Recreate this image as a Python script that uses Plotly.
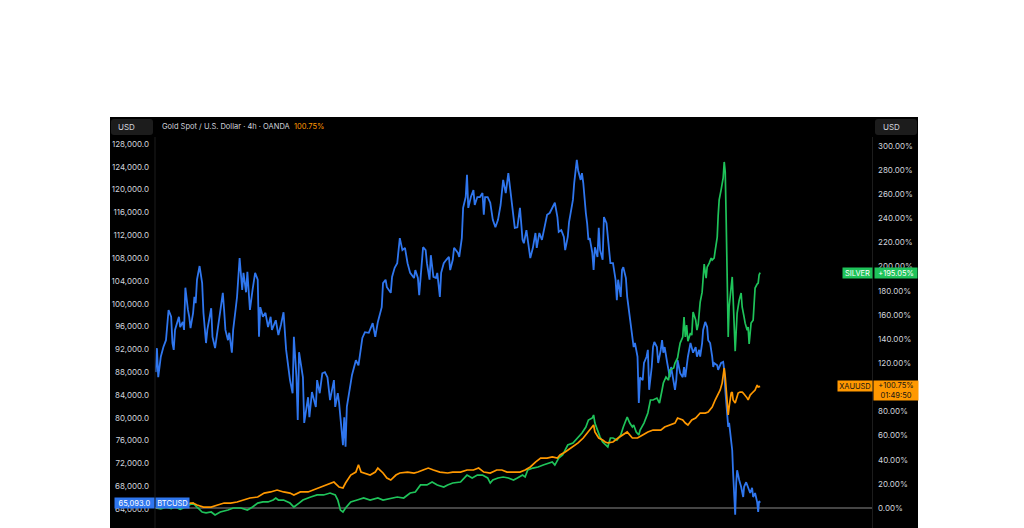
import plotly.graph_objects as go
import pandas as pd

# The page body adds an 8px margin, so the figure is 8px smaller and all
# reference pixel positions are shifted by OFF.
OFF = 8
W, H = 1024 - OFF, 528 - OFF
START = pd.Timestamp("2024-11-11")

# ---------------- data (days since START, values) ----------------
btc_days = [0, 1, 2, 4, 6, 8, 10, 12, 13, 14, 15, 18, 19, 21, 22, 23, 25, 26, 27, 29, 30, 31, 32, 34, 36, 37, 39, 40, 43, 44,
            46, 48, 49, 52, 53, 54, 56, 57, 59, 60, 62, 63, 65, 67, 68, 70, 71, 73, 75, 77, 79, 80, 81, 83, 85, 87, 89, 90, 93, 95,
            97, 99, 101, 103, 104, 106, 107, 109, 110, 111, 114, 115, 118, 119, 121, 124, 125, 127, 129, 131, 133, 135, 138, 139, 141, 142, 144, 145, 146, 147,
            148, 150, 152, 155, 157, 159, 160, 162, 165, 168, 170, 172, 175, 176, 178, 179, 182, 183, 185, 187, 189, 191, 193, 195, 197, 200, 201, 203, 204, 206,
            207, 209, 210, 212, 213, 215, 217, 218, 220, 221, 223, 225, 227, 228, 230, 231, 234, 235, 237, 238, 240, 241, 242, 244, 246, 247, 249, 251, 253, 254,
            255, 257, 259, 261, 263, 265, 267, 269, 271, 273, 275, 277, 278, 280, 282, 284, 285, 287, 288, 290, 292, 294, 295, 297, 299, 301, 303, 305, 307, 309,
            311, 312, 314, 316, 317, 319, 320, 323, 324, 326, 327, 329, 330, 331, 333, 334, 335, 336, 338, 339, 340, 342, 343, 344, 346, 347, 349, 350, 352, 354,
            356, 357, 358, 360, 361, 362, 364, 365, 367, 369, 370, 371, 373, 374, 375, 377, 378, 380, 381, 382, 384, 385, 386, 388, 389, 391, 392, 393, 394, 396,
            398, 399, 401, 402, 403, 404, 406, 408, 409, 410, 411, 412, 414, 416, 418, 419, 420.7, 421.5, 423.0, 423.8, 425.4, 426.9, 427.7, 429.2, 430.8, 431.6,
            432.3, 434.7, 435.4, 437.7, 439.3, 440.1, 440.9, 442.4, 443.2, 443.9, 445.5, 446.3, 447.0, 448.6, 449.4, 450.1, 451.7, 453.2, 454.8, 455.5,
            457.1, 458.6, 460.2, 461.7, 462.5, 464.0, 465.6, 466.4, 467.1, 467.9]
btc_price_k = [88.0, 92.2, 87.1, 90.7, 92.4, 93.6, 98.9, 97.7, 93.1, 91.9, 95.4, 97.7, 95.9, 96.8, 95.4, 102.8, 98.9, 97.7, 95.7, 98.4, 101.2, 100.1, 104.2, 106.6, 103.6, 98.4, 93.1, 95.4, 99.2, 94.2,
               92.2, 95.4, 97.1, 101.9, 98.9, 95.4, 93.6, 94.9, 91.4, 95.4, 99.2, 101.2, 108.0, 102.4, 105.4, 102.0, 105.6, 98.9, 102.4, 105.4, 104.2, 94.2, 99.4, 97.7, 98.4, 95.9, 97.7, 95.4, 97.1, 94.5,
               96.3, 98.5, 91.9, 87.8, 86.6, 84.3, 94.2, 87.1, 79.6, 91.5, 87.1, 79.1, 83.6, 80.1, 84.5, 81.9, 86.6, 84.3, 87.8, 88.0, 87.1, 83.1, 86.6, 81.9, 84.3, 82.6, 77.9, 75.2, 80.1, 74.9,
               81.9, 84.9, 87.5, 90.1, 89.2, 92.4, 94.0, 95.0, 94.9, 96.6, 94.2, 96.8, 99.4, 103.6, 104.2, 102.9, 101.9, 104.7, 106.3, 107.1, 111.5, 109.4, 109.8, 107.1, 105.4, 104.5, 105.9, 104.5, 101.5, 107.1,
               109.9, 109.4, 107.1, 104.2, 108.5, 104.7, 104.5, 105.4, 101.2, 105.4, 107.1, 107.7, 108.2, 105.9, 107.7, 109.8, 108.9, 108.2, 111.5, 116.8, 118.7, 122.6, 116.8, 118.7, 119.9, 117.3, 118.7, 118.7, 119.4, 115.6,
               118.7, 118.7, 117.7, 114.7, 113.4, 114.7, 117.3, 121.7, 119.4, 122.9, 118.7, 115.2, 113.3, 113.4, 116.8, 111.2, 110.6, 112.9, 111.2, 108.0, 109.8, 112.4, 109.8, 112.4, 111.2, 113.4, 115.6, 115.9, 116.8, 117.7,
               115.2, 112.6, 112.9, 111.7, 109.4, 111.7, 114.3, 118.2, 121.2, 125.2, 123.4, 121.7, 122.9, 121.2, 115.9, 114.1, 111.2, 111.5, 108.9, 105.9, 109.9, 108.2, 113.3, 109.4, 107.7, 115.2, 114.1, 111.7, 107.1, 107.1,
               104.2, 100.6, 104.2, 101.2, 105.9, 106.4, 104.5, 101.2, 97.7, 94.2, 92.4, 93.1, 90.7, 82.6, 87.1, 86.6, 89.6, 90.7, 91.9, 84.9, 88.9, 92.4, 93.3, 92.4, 89.6, 91.9, 93.6, 91.4, 92.4, 89.6,
               87.1, 88.9, 86.1, 84.9, 86.6, 90.1, 87.8, 87.1, 88.9, 87.1, 88.9, 90.7, 93.1, 91.4, 92.4, 90.7, 91.9, 90.7, 93.1, 95.4, 96.8, 95.9, 93.6, 93.1, 90.7, 88.9,
               89.6, 89.2, 88.4, 89.6, 89.8, 88.4, 84.9, 80.8, 78.4, 79.1, 76.1, 74.3, 70.3, 63.0, 68.6, 70.8, 69.1, 67.9, 66.1, 67.9,
               68.7, 67.9, 66.8, 67.7, 66.1, 66.8, 65.2, 63.5, 65.4, 65.093]

gold_days = [0, 4, 8, 12, 15, 19, 23, 27, 29, 32, 37, 43, 48, 53, 58, 63, 68, 73, 79, 84, 89, 94, 99, 104, 107, 112, 118, 122, 128, 133,
             138, 142, 145, 147, 151, 155, 157, 159, 162, 166, 170, 172, 176, 179, 182, 186, 189, 195, 200, 203, 207, 211, 215, 220, 226, 230, 236, 241, 246, 250,
             254, 259, 264, 268, 272, 277, 282, 286, 290, 294, 298, 303, 307, 311, 313, 317, 321, 323, 327, 331, 335, 338, 339, 340, 343, 346, 348, 350, 354, 358,
             362, 365, 369, 373, 377, 381, 385, 391, 394, 398, 402, 404, 408, 410, 412, 415, 418, 421.5, 425.4, 427.7, 430.8, 433.1, 435.4, 437.0, 438.5, 440.1,
             440.9, 442.4, 443.2, 443.9, 445.5, 446.3, 447.0, 448.6, 450.1, 450.9, 452.4, 454.0, 454.8, 456.3, 457.9, 458.6, 460.2, 461.7, 462.5, 464.0,
             465.6, 466.4, 467.9]
gold_pct = [0.0, 0.5, 1.0, 1.5, 0.5, 1.0, 2.5, 4.1, 4.1, 2.5, 0.8, 0.8, 2.5, 4.1, 4.1, 5.0, 6.6, 8.3, 9.1, 12.4, 13.3, 14.9, 13.3, 12.4, 10.8, 13.3, 13.3, 14.9, 17.4, 19.1,
            21.5, 17.4, 16.6, 20.7, 27.3, 29.8, 35.8, 29.8, 29.0, 27.3, 29.8, 33.1, 29.0, 24.9, 23.2, 27.3, 29.0, 29.8, 29.0, 29.8, 31.5, 33.1, 31.5, 29.8, 29.0, 29.8, 29.8, 31.5, 31.5, 33.1,
            29.8, 29.0, 31.5, 31.5, 29.8, 29.8, 29.8, 31.5, 34.0, 38.1, 41.4, 41.4, 42.3, 41.4, 43.9, 46.4, 49.7, 50.6, 53.9, 58.0, 63.0, 67.1, 68.8, 63.0, 58.0, 56.3, 54.7, 53.9, 54.7, 58.0,
            60.5, 63.0, 58.0, 58.0, 60.5, 63.0, 64.6, 64.6, 67.1, 68.8, 70.4, 74.6, 72.9, 70.4, 68.8, 72.9, 74.6, 78.7, 78.7, 79.5, 83.7, 89.5, 95.3, 97.8, 103.5, 115.9,
            108.5, 91.9, 77.1, 83.7, 95.3, 96.1, 89.5, 87.0, 91.9, 95.3, 96.1, 96.1, 95.3, 93.6, 91.1, 89.5, 93.6, 95.3, 96.1, 97.8,
            101.9, 100.3, 100.75]

silver_days = [0, 4, 8, 12, 15, 19, 23, 27, 29, 32, 36, 39, 43, 46, 50, 56, 60, 66, 71, 75, 79, 83, 87, 91, 93, 95, 99, 104, 107, 111,
               114, 120, 125, 130, 135, 139, 141, 143, 145, 147, 151, 156, 161, 166, 172, 176, 182, 187, 192, 197, 201, 205, 210, 214, 218, 223, 226, 230, 236, 240,
               241, 245, 249, 253, 257, 259, 261, 265, 269, 273, 277, 280, 284, 286, 288, 292, 296, 300, 304, 307, 309, 312, 315, 317, 319, 323, 325, 327, 330, 333,
               335, 338, 339, 340, 342, 343, 344, 346, 350, 352, 354, 357, 360, 362, 364, 365, 367, 369, 370, 372, 374, 375, 378, 381, 383, 385, 388, 390, 392, 393,
               395, 397, 398, 401, 402, 404, 405, 406, 408, 409, 410, 411, 412, 414, 415, 416, 418, 419, 420, 421.5, 423.0, 423.8, 424.6, 426.1, 426.9, 428.5,
               430.0, 430.8, 432.3, 433.1, 434.7, 435.4, 436.2, 437.7, 438.5, 439.3, 440.1, 440.9, 441.6, 442.4, 443.2, 443.9, 445.5, 446.3, 447.0, 447.8,
               448.6, 450.1, 451.7, 453.2, 454.0, 455.5, 456.3, 457.9, 458.6, 459.4, 460.9, 462.5, 463.3, 464.0, 465.6, 466.4, 467.1, 467.9]
silver_pct = [0.0, -0.8, 0.8, -0.5, 1.0, -1.0, 0.8, 3.3, 4.1, 0.8, -3.3, -4.1, -3.3, -5.8, -3.3, -1.7, 0.0, 0.0, -1.7, 0.8, 4.1, 5.0, 5.0, 6.6, 8.3, 6.6, 6.6, 4.1, 0.8, 4.1,
              6.6, 9.1, 10.8, 10.8, 12.4, 10.8, 6.6, -1.7, -3.3, 0.0, 5.0, 6.6, 8.3, 6.6, 8.3, 6.6, 8.3, 9.1, 8.3, 12.4, 13.3, 19.1, 19.1, 21.5, 19.1, 17.4, 19.1, 20.7, 21.5, 25.7,
              27.3, 24.9, 27.3, 27.3, 24.9, 20.7, 23.2, 24.9, 25.7, 24.9, 23.2, 24.9, 27.3, 25.7, 31.5, 33.1, 34.0, 35.6, 37.3, 38.1, 35.6, 41.4, 43.9, 48.0, 52.2, 53.9, 56.3, 58.0, 62.1, 67.1,
              72.9, 74.6, 77.1, 70.4, 64.6, 60.5, 58.8, 54.7, 50.6, 58.0, 58.0, 56.3, 60.5, 67.1, 72.9, 75.4, 70.4, 67.1, 68.8, 63.0, 60.5, 64.6, 70.4, 78.7, 89.5, 89.5, 91.1, 87.0, 97.8, 103.6,
              108.5, 106.0, 114.3, 116.0, 120.1, 124.3, 130.9, 136.7, 141.7, 158.2, 141.7, 151.6, 138.3, 145.0, 143.3, 162.4, 155.8, 147.5, 152.4, 170.7, 178.9, 188.9, 202.1, 190.5, 199.6, 203.0,
              207.1, 205.4, 207.1, 213.0, 224.5, 242.0, 255.3, 263.6, 269.4, 273.5, 286.8, 278.5, 240.4, 199.6, 141.7, 166.6, 180.7, 191.5, 174.0, 157.4,
              130.0, 161.6, 172.3, 178.1, 166.6, 158.2, 153.2, 147.4, 149.9, 135.9, 153.2, 155.7, 169.8, 182.3, 185.6, 186.4, 193.1, 195.05]

left_ticks = list(range(64000, 128001, 4000))
# 100% tick is fully covered by the XAUUSD price label in the reference
right_ticks = [v for v in range(0, 301, 20) if v != 100]

BLUE = "#2f76ee"
GREEN = "#1fc35a"
ORANGE = "#ff9800"
TXT = "#d1d4dc"
FONT = "Inter"


def to_dates(days):
    return [START + pd.Timedelta(days=d) for d in days]


def px(x):
    return (x - OFF) / W


def py(y):
    return 1 - (y - OFF) / H


fig = go.Figure()
fig.add_trace(go.Scatter(x=to_dates(btc_days), y=[v * 1000 for v in btc_price_k], mode="lines",
                         line=dict(color=BLUE, width=1.8), yaxis="y", hoverinfo="skip", name="BTCUSD"))
fig.add_trace(go.Scatter(x=to_dates(silver_days), y=silver_pct, mode="lines",
                         line=dict(color=GREEN, width=1.7), yaxis="y2", hoverinfo="skip", name="SILVER"))
fig.add_trace(go.Scatter(x=to_dates(gold_days), y=gold_pct, mode="lines",
                         line=dict(color=ORANGE, width=1.7), yaxis="y2", hoverinfo="skip", name="XAUUSD"))


def rrect(x0, y0, x1, y1, r, color):
    X = lambda v: px(v)
    Y = lambda v: py(v)
    path = (f"M {X(x0 + r)},{Y(y0)} L {X(x1 - r)},{Y(y0)} Q {X(x1)},{Y(y0)} {X(x1)},{Y(y0 + r)} "
            f"L {X(x1)},{Y(y1 - r)} Q {X(x1)},{Y(y1)} {X(x1 - r)},{Y(y1)} L {X(x0 + r)},{Y(y1)} "
            f"Q {X(x0)},{Y(y1)} {X(x0)},{Y(y1 - r)} L {X(x0)},{Y(y0 + r)} Q {X(x0)},{Y(y0)} {X(x0 + r)},{Y(y0)} Z")
    return dict(type="path", xref="paper", yref="paper", path=path, fillcolor=color,
                line=dict(width=0), layer="below")


shapes = [
    dict(type="rect", xref="paper", yref="paper", x0=px(110), x1=px(918), y0=0, y1=py(117),
         fillcolor="#000000", line=dict(width=0), layer="below"),
    rrect(111, 119, 153, 135, 3, "#1c1c1c"),
    rrect(875, 119, 917, 135, 3, "#1c1c1c"),
    dict(type="line", xref="paper", yref="paper", x0=px(155), x1=px(155), y0=0, y1=py(137),
         line=dict(color="#1c1c1c", width=1)),
    dict(type="line", xref="paper", yref="paper", x0=px(872.5), x1=px(872.5), y0=0, y1=py(137),
         line=dict(color="#1c1c1c", width=1)),
    dict(type="line", xref="paper", yref="y2", x0=px(155), x1=px(872), y0=0, y1=0,
         line=dict(color="#5c5c5c", width=1.5), layer="below"),
]

annotations = [
    dict(xref="paper", yref="paper", x=px(116), y=py(127), text="USD", showarrow=False,
         xanchor="left", yanchor="middle", font=dict(family=FONT, size=8, color=TXT)),
    dict(xref="paper", yref="paper", x=px(881), y=py(127), text="USD", showarrow=False,
         xanchor="left", yanchor="middle", font=dict(family=FONT, size=8, color=TXT)),
    dict(xref="paper", yref="paper", x=px(160), y=py(127),
         text="Gold Spot / U.S. Dollar · 4h · OANDA  <span style='color:#ff9800'>100.75%</span>",
         showarrow=False, xanchor="left", yanchor="middle", font=dict(family=FONT, size=7.5, color=TXT)),
    # BTC labels
    dict(xref="paper", yref="y", x=px(134), y=btc_price_k[-1] * 1000, text=f"{btc_price_k[-1] * 1000:,.1f}",
         showarrow=False, xanchor="center", yanchor="middle", width=39, height=10, bgcolor=BLUE, borderpad=0,
         font=dict(family=FONT, size=7.5, color="#ffffff")),
    dict(xref="paper", yref="y", x=px(172.5), y=btc_price_k[-1] * 1000, text="BTCUSD",
         showarrow=False, xanchor="center", yanchor="middle", width=33, height=10, bgcolor=BLUE, borderpad=0,
         font=dict(family=FONT, size=7.5, color="#ffffff")),
    # Silver labels
    dict(xref="paper", yref="y2", x=px(857.5), y=silver_pct[-1], text="SILVER",
         showarrow=False, xanchor="center", yanchor="middle", width=29, height=10, bgcolor=GREEN, borderpad=0,
         font=dict(family=FONT, size=7.5, color="#ffffff")),
    dict(xref="paper", yref="y2", x=px(895.5), y=silver_pct[-1], text=f"+{silver_pct[-1]:.2f}%",
         showarrow=False, xanchor="center", yanchor="middle", width=42, height=10, bgcolor=GREEN, borderpad=0,
         font=dict(family=FONT, size=7.5, color="#ffffff")),
    # Gold labels
    dict(xref="paper", yref="y2", x=px(855), y=gold_pct[-1], text="XAUUSD",
         showarrow=False, xanchor="center", yanchor="middle", width=34, height=10, bgcolor=ORANGE, borderpad=0,
         font=dict(family=FONT, size=7.5, color="#131313")),
    dict(xref="paper", yref="y2", x=px(895.5), y=gold_pct[-1], yshift=-4.5,
         text=f"+{gold_pct[-1]:.2f}%<br>01:49:50",
         showarrow=False, xanchor="center", yanchor="middle", width=44, height=19, bgcolor=ORANGE, borderpad=0,
         font=dict(family=FONT, size=7.5, color="#131313")),
]

fig.update_layout(
    width=W, height=H,
    margin=dict(l=0, r=0, t=0, b=0),
    paper_bgcolor="#ffffff",
    plot_bgcolor="#000000",
    showlegend=False,
    shapes=shapes,
    annotations=annotations,
    xaxis=dict(domain=[px(155), px(872)], range=[START - pd.Timedelta(days=0.5), START + pd.Timedelta(days=554.5)],
               showgrid=False, zeroline=False, showticklabels=False, ticks="", showline=False, fixedrange=True),
    yaxis=dict(domain=[0, py(117)], range=[60668, 132734], side="left", tickmode="array", tickvals=left_ticks,
               ticktext=[f"{v:,.1f}" for v in left_ticks], showgrid=False, zeroline=False, showline=False, ticks="",
               ticklabelstandoff=5, tickfont=dict(family=FONT, size=8, color=TXT)),
    yaxis2=dict(overlaying="y", side="right", range=[-16.57, 324.03], tickmode="array", tickvals=right_ticks,
                ticktext=[f"{v:.2f}%" for v in right_ticks], showgrid=False, zeroline=False, showline=False, ticks="",
                ticklabelstandoff=5, tickfont=dict(family=FONT, size=8, color=TXT)),
)

fig.write_html("out.html")
